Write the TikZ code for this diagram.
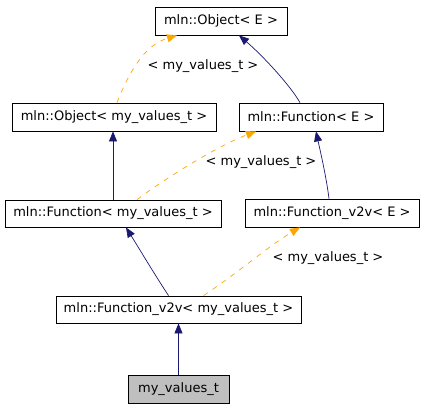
\documentclass[tikz,border=0pt]{standalone}
\usepackage{fontspec}
\setmainfont{DejaVu Sans}
\usetikzlibrary{arrows.meta,calc}

\definecolor{navy}{RGB}{25,25,112}
\definecolor{tplorange}{RGB}{255,165,0}
\definecolor{boxgray}{RGB}{191,191,191}

\begin{document}
\begin{tikzpicture}[x=1pt,y=-1pt,>={Triangle[length=10pt,width=8pt]},
  cls/.style={draw=black,line width=0.8pt,fill=white,minimum height=28pt,inner sep=0pt,font=\fontsize{13}{15}\selectfont},
  inh/.style={->,line width=0.7pt,navy},
  tpl/.style={->,line width=0.7pt,tplorange,dash pattern=on 5pt off 6pt},
  tlabel/.style={font=\fontsize{13}{15}\selectfont}]

\useasboundingbox (0,0) rectangle (424,408);

% ---------- Classes ----------
\node[cls,minimum width=132pt] (objE) at (221,21)  {mln::Object< E >};
\node[cls,minimum width=204pt] (objV) at (114,117) {mln::Object< my\_values\_t >};
\node[cls,minimum width=144pt] (funE) at (311,117) {mln::Function< E >};
\node[cls,minimum width=216pt,minimum height=27pt] (funV) at (113,213.5) {mln::Function< my\_values\_t >};
\node[cls,minimum width=174pt] (v2vE) at (332,213) {mln::Function\_v2v< E >};
\node[cls,minimum width=245pt,minimum height=27pt] (v2vV) at (178.5,309.5) {mln::Function\_v2v< my\_values\_t >};
\node[cls,minimum width=101pt,fill=boxgray] (vals) at (178.5,389) {my\_values\_t};

% ---------- Plain inheritance (navy) ----------
\draw[inh] ([xshift=-11pt]funE.north) .. controls (290,85) and (262,55) .. ([xshift=18pt]objE.south);
\draw[inh] (funV.north) -- ([xshift=-1pt]objV.south);
\draw[inh] ([xshift=-3pt]v2vE.north) .. controls (326,175) and (320,150) .. ([xshift=5pt]funE.south);
\draw[inh] ([xshift=-10pt]v2vV.north) .. controls (155,275) and (140,250) .. ([xshift=13pt]funV.south);
\draw[inh] (vals.north) -- (v2vV.south);

% ---------- Template instances (orange, dashed) ----------
\draw[tpl] ([xshift=3pt]objV.north) .. controls (130,70) and (145,45) .. ([xshift=-44pt]objE.south);
\node[tlabel] (l1) at (203,66) {< my\_values\_t >};

\draw[tpl] ([xshift=24pt]funV.north) .. controls (170,175) and (220,145) .. ([xshift=-55pt]funE.south);
\node[tlabel] (l2) at (261,162) {< my\_values\_t >};

\draw[tpl] ([xshift=25pt]v2vV.north) .. controls (235,275) and (270,245) .. ([xshift=-32pt]v2vE.south);
\node[tlabel] (l3) at (328,258) {< my\_values\_t >};

\end{tikzpicture}
\end{document}
